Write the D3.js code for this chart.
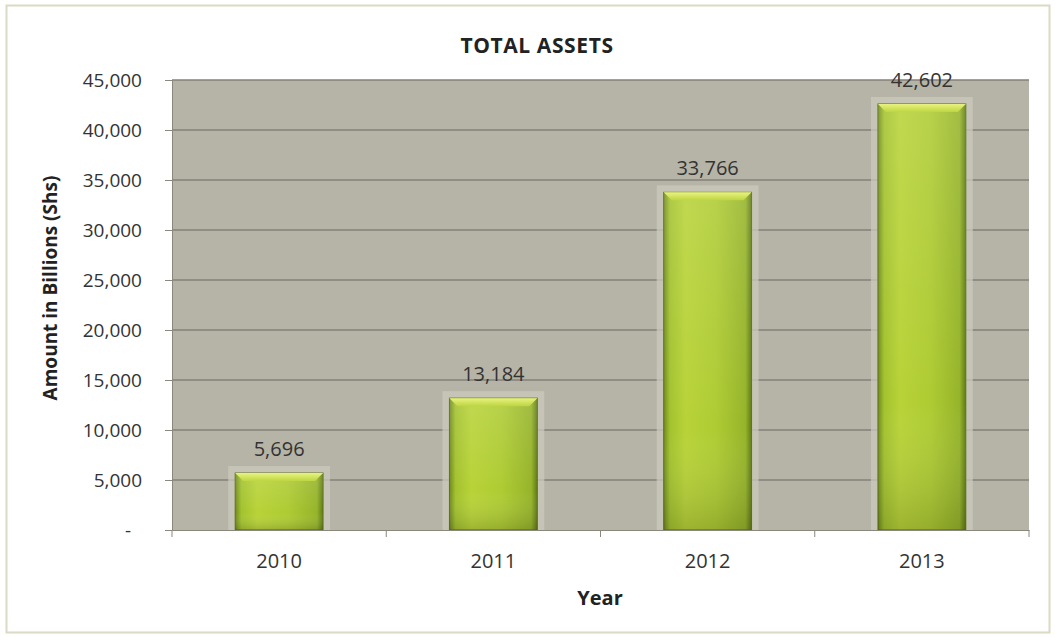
<!DOCTYPE html>
<html><head><meta charset="utf-8">
<script src="https://cdn.jsdelivr.net/npm/d3@7"></script>
<style>body{margin:0;background:#fff;} svg{display:block;font-family:"Open Sans","Noto Sans",sans-serif;}</style>
</head><body>
<svg id="c" width="1055" height="637"></svg>
<script>
const categories = ["2010","2011","2012","2013"];
const values = [5696, 13184, 33766, 42602];
const yTicks = [0,5000,10000,15000,20000,25000,30000,35000,40000,45000];
const title = "TOTAL ASSETS";
const xTitle = "Year";
const yTitle = "Amount in Billions (Shs)";

const svg = d3.select("#c");
const m = {left:172, right:1029, top:80, bottom:530};
const FF = "'Open Sans','Noto Sans',sans-serif";

svg.append("rect").attr("x",6.5).attr("y",5.5).attr("width",1043).attr("height",627)
  .attr("fill","#fff").attr("stroke","#dcd9c4").attr("stroke-width",2);

const defs = svg.append("defs");
const g1 = defs.append("linearGradient").attr("id","barH").attr("x1",0).attr("x2",1).attr("y1",0).attr("y2",0);
[[0,"#6f8a1c"],[0.07,"#a3c22e"],[0.25,"#b8d338"],[0.6,"#aecb33"],[0.93,"#96b42a"],[1,"#5f7a16"]].forEach(s=>g1.append("stop").attr("offset",s[0]).attr("stop-color",s[1]));
const g2 = defs.append("linearGradient").attr("id","barTop").attr("x1",0).attr("x2",0).attr("y1",0).attr("y2",1);
[[0,"#e8f280"],[1,"#bdd640"]].forEach(s=>g2.append("stop").attr("offset",s[0]).attr("stop-color",s[1]));
const g3 = defs.append("linearGradient").attr("id","barV").attr("x1",0).attr("x2",0).attr("y1",0).attr("y2",1);
[[0,"#ffffff",0.12],[0.7,"#ffffff",0],[1,"#000000",0.15]].forEach(s=>g3.append("stop").attr("offset",s[0]).attr("stop-color",s[1]).attr("stop-opacity",s[2]));

const x = d3.scaleBand().domain(categories).range([m.left,m.right]).paddingInner(0.59).paddingOuter(0.295);
const y = d3.scaleLinear().domain([0,45000]).range([m.bottom,m.top]);

svg.append("rect").attr("x",m.left).attr("y",m.top).attr("width",m.right-m.left).attr("height",m.bottom-m.top)
  .attr("fill","#b6b3a7");

svg.append("g").selectAll("line").data(yTicks.slice(1)).join("line")
  .attr("x1",m.left).attr("x2",m.right).attr("y1",d=>y(d)).attr("y2",d=>y(d))
  .attr("stroke","#83817a").attr("stroke-width",1.3);

const bars = svg.append("g").selectAll("g").data(categories).join("g");
bars.append("rect").attr("x",d=>x(d)-7).attr("width",x.bandwidth()+14)
  .attr("y",(d,i)=>y(values[i])-7).attr("height",(d,i)=>m.bottom-y(values[i])+7)
  .attr("fill","#cbc9bc").attr("opacity",0.75);
bars.append("rect").attr("x",d=>x(d)).attr("width",x.bandwidth())
  .attr("y",(d,i)=>y(values[i])).attr("height",(d,i)=>m.bottom-y(values[i]))
  .attr("fill","url(#barH)").attr("stroke","#5d7315").attr("stroke-width",1);
bars.append("rect").attr("x",d=>x(d)).attr("width",x.bandwidth())
  .attr("y",(d,i)=>y(values[i])).attr("height",(d,i)=>m.bottom-y(values[i]))
  .attr("fill","url(#barV)");
bars.append("path").attr("d",(d,i)=>{
  const x0=x(d), x1=x(d)+x.bandwidth(), t=y(values[i]), b=8;
  return `M${x0},${t}L${x1},${t}L${x1-b},${t+b}L${x0+b},${t+b}Z`;
}).attr("fill","url(#barTop)");

svg.append("g").selectAll("text").data(categories).join("text")
  .attr("x",d=>x(d)+x.bandwidth()/2).attr("y",(d,i)=>y(values[i])-17)
  .attr("text-anchor","middle").attr("font-size",20).attr("fill","#333")
  .text((d,i)=>d3.format(",")(values[i]));

const yAxis = svg.append("g").attr("transform",`translate(${m.left},0)`)
  .call(d3.axisLeft(y).tickValues(yTicks).tickSize(7).tickPadding(23).tickFormat(d=>d===0?"-":d3.format(",")(d)));
yAxis.select(".domain").attr("stroke","#8a877d");
yAxis.selectAll(".tick line").attr("stroke","#8a877d");
yAxis.selectAll("text").attr("font-size",19).attr("fill","#333").attr("font-family",FF);
yAxis.selectAll(".tick text").filter(d=>d===0).attr("dx",-11);

const xAxis = svg.append("g").attr("transform",`translate(0,${m.bottom})`)
  .call(d3.axisBottom(x).tickSize(0).tickPadding(24));
xAxis.select(".domain").attr("stroke","#8a877d");
xAxis.selectAll("text").attr("font-size",20).attr("fill","#333").attr("font-family",FF);
const bounds = d3.range(categories.length+1).map(i=>m.left + i*(m.right-m.left)/categories.length);
svg.append("g").selectAll("line").data(bounds).join("line")
  .attr("x1",d=>d).attr("x2",d=>d).attr("y1",m.bottom).attr("y2",m.bottom+7)
  .attr("stroke","#8a877d");

svg.append("text").attr("x",537).attr("y",53).attr("text-anchor","middle")
  .attr("font-size",21).attr("letter-spacing",0.6).attr("font-weight","bold").attr("fill","#222").text(title);
svg.append("text").attr("x",600).attr("y",605).attr("text-anchor","middle")
  .attr("font-size",20).attr("font-weight","bold").attr("fill","#222").text(xTitle);
svg.append("text").attr("transform","translate(57,288) rotate(-90)").attr("text-anchor","middle")
  .attr("font-size",19).attr("font-weight","bold").attr("fill","#222").text(yTitle);
</script>
</body></html>
